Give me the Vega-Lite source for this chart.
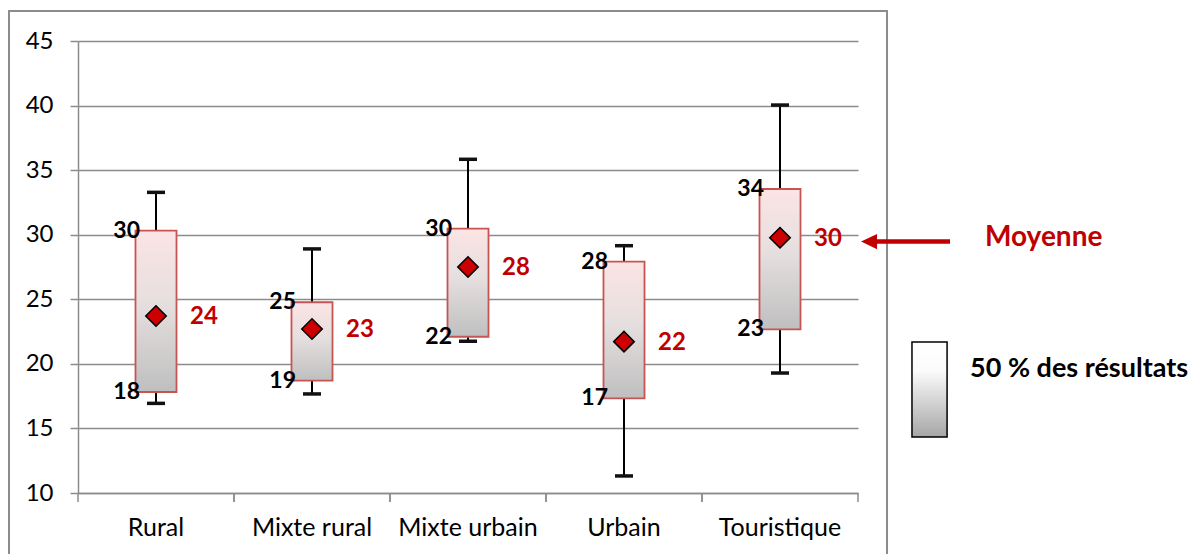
{
  "$schema": "https://vega.github.io/schema/vega-lite/v6.json",
  "autosize": {"type": "none"},
  "padding": {"left": 78, "top": 41, "right": 332, "bottom": 61},
  "width": 780,
  "height": 452,
  "background": "white",
  "config": {"view": {"stroke": null}, "font": "Lato"},
  "resolve": {"scale": {"x": "independent"}, "axis": {"x": "independent"}},
  "layer": [
    {
      "data": {
        "values": [
          {"cat": "Rural", "low": 16.94, "q1": 17.82, "mean": 23.71, "q3": 30.31, "high": 33.28, "q1Label": "18", "q3Label": "30", "meanLabel": "24"},
          {"cat": "Mixte rural", "low": 17.67, "q1": 18.7, "mean": 22.7, "q3": 24.77, "high": 28.9, "q1Label": "19", "q3Label": "25", "meanLabel": "23"},
          {"cat": "Mixte urbain", "low": 21.75, "q1": 22.1, "mean": 27.5, "q3": 30.47, "high": 35.84, "q1Label": "22", "q3Label": "30", "meanLabel": "28"},
          {"cat": "Urbain", "low": 11.32, "q1": 17.33, "mean": 21.72, "q3": 27.91, "high": 29.15, "q1Label": "17", "q3Label": "28", "meanLabel": "22"},
          {"cat": "Touristique", "low": 19.29, "q1": 22.67, "mean": 29.77, "q3": 33.54, "high": 40.04, "q1Label": "23", "q3Label": "34", "meanLabel": "30"}
        ]
      },
      "encoding": {
        "x": {
          "field": "cat",
          "type": "nominal",
          "sort": null,
          "scale": {"paddingInner": 0, "paddingOuter": 0},
          "axis": {
            "title": null,
            "ticks": false,
            "tickSize": 0,
            "domainColor": "#8C8C8C",
            "domainWidth": 1.5,
            "labelFontSize": 25,
            "labelColor": "#000000",
            "labelFont": "Lato",
            "labelPadding": 22,
            "labelAngle": 0,
            "grid": false
          }
        }
      },
      "layer": [
        {
          "mark": {"type": "rule", "color": "#000000", "strokeWidth": 2},
          "encoding": {
            "y": {"field": "low", "type": "quantitative", "scale": {"domain": [10, 45], "nice": false, "zero": false},
              "axis": {
                "title": null,
                "values": [10, 15, 20, 25, 30, 35, 40, 45],
                "tickSize": 8,
                "tickColor": "#8C8C8C",
                "tickWidth": 1.5,
                "domainColor": "#8C8C8C",
                "domainWidth": 1.5,
                "grid": true,
                "gridColor": "#8C8C8C",
                "gridWidth": 1.5,
                "gridOpacity": 1,
                "labelFontSize": 24,
                "labelColor": "#000000",
                "labelFont": "Lato",
                "labelPadding": 17
              }
            },
            "y2": {"field": "high"}
          }
        },
        {
          "mark": {"type": "rule", "color": "#8C8C8C", "strokeWidth": 1.5},
          "encoding": {
            "x": {"field": "cat", "type": "nominal", "sort": null, "bandPosition": 0},
            "y": {"datum": 10, "type": "quantitative"},
            "y2": {"datum": 9.3}
          }
        },
        {
          "mark": {"type": "rule", "color": "#8C8C8C", "strokeWidth": 1.5},
          "encoding": {
            "x": {"field": "cat", "type": "nominal", "sort": null, "bandPosition": 1},
            "y": {"datum": 10, "type": "quantitative"},
            "y2": {"datum": 9.3}
          }
        },
        {
          "mark": {"type": "tick", "orient": "horizontal", "size": 18, "thickness": 3.5, "color": "#111111", "opacity": 1},
          "encoding": {
            "y": {"field": "high", "type": "quantitative"}
          }
        },
        {
          "mark": {"type": "tick", "orient": "horizontal", "size": 18, "thickness": 3.5, "color": "#111111", "opacity": 1},
          "encoding": {
            "y": {"field": "low", "type": "quantitative"}
          }
        },
        {
          "mark": {
            "type": "bar",
            "width": {"band": 0.263},
            "stroke": "#C55452",
            "strokeWidth": 1.8,
            "fill": {
              "gradient": "linear",
              "x1": 0, "y1": 0, "x2": 0, "y2": 1,
              "stops": [
                {"offset": 0, "color": "#FCE4E4"},
                {"offset": 0.45, "color": "#E6DFDF"},
                {"offset": 1, "color": "#BFBFBF"}
              ]
            }
          },
          "encoding": {
            "y": {"field": "q1", "type": "quantitative"},
            "y2": {"field": "q3"}
          }
        },
        {
          "mark": {"type": "point", "shape": "diamond", "filled": true, "fill": "#CC0000", "stroke": "#000000", "strokeWidth": 1.5, "size": 420, "opacity": 1},
          "encoding": {
            "y": {"field": "mean", "type": "quantitative"}
          }
        },
        {
          "mark": {"type": "text", "align": "right", "baseline": "middle", "dx": -16, "fontSize": 23, "fontWeight": "bold", "color": "#000000", "font": "Lato"},
          "encoding": {
            "y": {"field": "q3", "type": "quantitative"},
            "text": {"field": "q3Label"}
          }
        },
        {
          "mark": {"type": "text", "align": "right", "baseline": "middle", "dx": -16, "fontSize": 23, "fontWeight": "bold", "color": "#000000", "font": "Lato"},
          "encoding": {
            "y": {"field": "q1", "type": "quantitative"},
            "text": {"field": "q1Label"}
          }
        },
        {
          "mark": {"type": "text", "align": "left", "baseline": "middle", "dx": 34, "dy": 1, "fontSize": 24, "fontWeight": "bold", "color": "#C00000", "font": "Lato"},
          "encoding": {
            "y": {"field": "mean", "type": "quantitative"},
            "text": {"field": "meanLabel"}
          }
        }
      ]
    },
    {
      "data": {"values": [{}]},
      "layer": [
        {
          "mark": {"type": "rect", "fill": "#FFFFFF", "fillOpacity": 0, "stroke": "#8C8C8C", "strokeWidth": 2},
          "encoding": {
            "x": {"datum": -0.4423, "type": "quantitative", "scale": {"domain": [0, 5], "nice": false, "zero": false}, "axis": null},
            "x2": {"datum": 5.186},
            "y": {"datum": 47.32, "type": "quantitative"},
            "y2": {"datum": 5}
          }
        },
        {
          "mark": {"type": "rule", "color": "#C00000", "strokeWidth": 4.5},
          "encoding": {
            "x": {"datum": 5.115, "type": "quantitative"},
            "x2": {"datum": 5.59},
            "y": {"datum": 29.47, "type": "quantitative"}
          }
        },
        {
          "mark": {"type": "point", "shape": "M1,-0.95L-1,0L1,0.95Z", "filled": true, "fill": "#C00000", "strokeWidth": 0, "size": 256, "opacity": 1},
          "encoding": {
            "x": {"datum": 5.071, "type": "quantitative"},
            "y": {"datum": 29.47, "type": "quantitative"}
          }
        },
        {
          "mark": {"type": "text", "text": "Moyenne", "align": "left", "baseline": "middle", "fontSize": 28, "fontWeight": "bold", "color": "#C00000", "font": "Lato"},
          "encoding": {
            "x": {"datum": 5.814, "type": "quantitative"},
            "y": {"datum": 29.75, "type": "quantitative"}
          }
        },
        {
          "mark": {
            "type": "rect",
            "stroke": "#000000",
            "strokeWidth": 1.5,
            "fill": {
              "gradient": "linear",
              "x1": 0, "y1": 0, "x2": 0, "y2": 1,
              "stops": [
                {"offset": 0, "color": "#FFFFFF"},
                {"offset": 0.3, "color": "#FBFBFB"},
                {"offset": 1, "color": "#A6A6A6"}
              ]
            }
          },
          "encoding": {
            "x": {"datum": 5.346, "type": "quantitative"},
            "x2": {"datum": 5.571},
            "y": {"datum": 21.69, "type": "quantitative"},
            "y2": {"datum": 14.34}
          }
        },
        {
          "mark": {"type": "text", "text": "50 % des résultats", "align": "left", "baseline": "middle", "fontSize": 27, "fontWeight": "bold", "color": "#000000", "font": "Lato"},
          "encoding": {
            "x": {"datum": 5.718, "type": "quantitative"},
            "y": {"datum": 19.6, "type": "quantitative"}
          }
        }
      ]
    }
  ]
}
